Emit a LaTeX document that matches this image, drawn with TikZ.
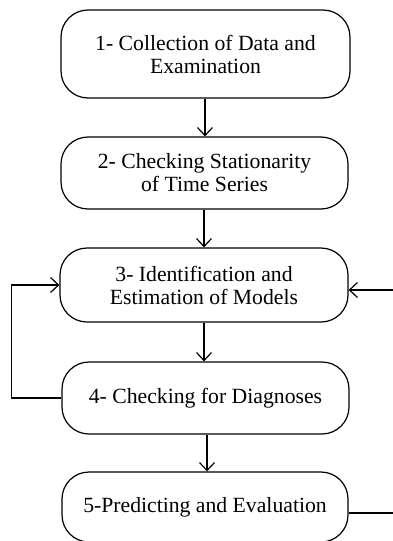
\documentclass[tikz,border=0pt]{standalone}
\usepackage{fontspec}
\setmainfont{Liberation Serif}
\usetikzlibrary{arrows.meta}
\begin{document}
\begin{tikzpicture}[x=1pt,y=-1pt,
  box/.style={draw,line width=1.2pt,rounded corners=27pt,align=center,
    font=\fontsize{21.7}{23}\selectfont,inner sep=0pt},
  conn/.style={line width=1.2pt,-{Straight Barb[length=8pt,width=15pt,line width=1.2pt]}},
  plain/.style={line width=1.2pt}]
\useasboundingbox (0,0) rectangle (393,541);
\node[box,minimum width=289pt,minimum height=88pt] (b1) at (205.5,54) {1- Collection of Data and\\Examination};
\node[box,minimum width=287pt,minimum height=72pt] (b2) at (204.5,173) {2- Checking Stationarity\\of Time Series};
\node[box,minimum width=288pt,minimum height=74pt] (b3) at (204,285) {3- Identification and\\Estimation of Models};
\node[box,minimum width=287pt,minimum height=72pt] (b4) at (205.5,398) {4- Checking for Diagnoses};
\node[box,minimum width=286pt,minimum height=70pt] (b5) at (205,507) {5-Predicting and Evaluation};
\draw[conn] (b1.south -| 205,0) -- (b2.north -| 205,0);
\draw[conn] (b2.south -| 204,0) -- (b3.north -| 204,0);
\draw[conn] (b3.south -| 204,0) -- (b4.north -| 204,0);
\draw[conn] (b4.south -| 207,0) -- (b5.north -| 207,0);
\draw[conn] (b4.west) -- ++(-50,0) |- (b3.west);
\coordinate (r1) at (393,290);
\coordinate (r2) at (393,513);
\draw[conn] (r1) -- (r1 -| b3.east);
\draw[plain] (r2 -| b5.east) -- (r2);
\end{tikzpicture}
\end{document}
